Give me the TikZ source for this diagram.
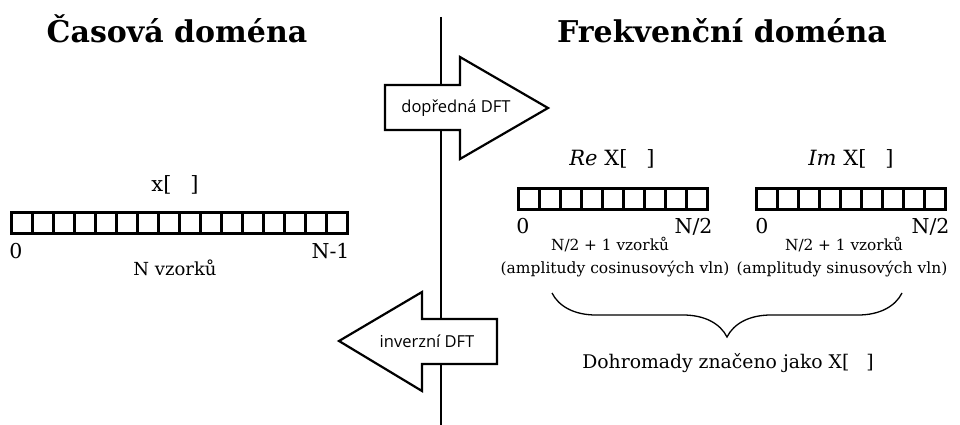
\documentclass[tikz,border=0pt]{standalone}
\usepackage{fontspec}
\setmainfont{DejaVu Serif}
\setsansfont{Open Sans}
\usetikzlibrary{decorations.pathreplacing}

\begin{document}
\begin{tikzpicture}[x=1pt, y=-1pt,
    cell/.style={draw, line width=2.8pt, minimum width=21pt, minimum height=21.5pt,
        inner sep=0pt, outer sep=0pt},
    heading/.style={anchor=base, font=\fontsize{30}{36}\selectfont\bfseries},
    arrname/.style={anchor=base, font=\fontsize{21}{25}\selectfont},
    idx/.style={anchor=base, font=\fontsize{20.5}{24}\selectfont},
    note/.style={anchor=base, font=\fontsize{15.5}{18}\selectfont},
    dft/.style={draw, line width=2.2pt, fill=white, line join=miter},
    dftname/.style={anchor=base, font=\sffamily\fontsize{16.5}{20}\selectfont}]
    \useasboundingbox (0, 0) rectangle (960, 425);

    \node[heading] (cas) at (177, 43) {Časová doména};
    \node[heading] (frek) at (722, 43) {Frekvenční doména};

    \coordinate (osa-t) at (441, 17);
    \coordinate (osa-b) at (441, 425);
    \draw[line width=2.2pt] (osa-t) -- (osa-b);

    % dopredna a inverzni DFT
    \draw[dft] (385, 85) -- (460, 85) -- (460, 57) -- (548, 108)
        -- (460, 159) -- (460, 130) -- (385, 130) -- cycle;
    \node[dftname] (fwd) at (456, 113) {dopředná DFT};
    \draw[dft] (497, 319) -- (422, 319) -- (422, 292) -- (339, 341)
        -- (422, 391) -- (422, 364) -- (497, 364) -- cycle;
    \node[dftname] (inv) at (427, 347) {inverzní DFT};

    % casova domena
    \node[arrname] (x) at (175, 191) {x[\hspace{0.9em}]};
    \foreach \i in {0,...,15}
        \node[cell] (x\i) at ({22 + 21*\i}, 223) {};
    \node[idx] (x-0) at (16, 258) {0};
    \node[idx, anchor=base east] (x-n) at (353, 258) {N-1};
    \node[note, font=\fontsize{18}{21}\selectfont] (x-pocet) at (175, 275) {N vzorků};

    % frekvencni domena
    \node[arrname] (re) at (612, 165) {\textit{Re} X[\hspace{0.9em}]};
    \foreach \i in {0,...,8}
        \node[cell] (re\i) at ({529 + 21*\i}, 199) {};
    \node[idx] (re-0) at (523, 233) {0};
    \node[idx, anchor=base east] (re-n) at (716, 233) {N/2};
    \node[note, font=\fontsize{15.3}{18}\selectfont] (re-pocet) at (610, 250) {N/2 + 1 vzorků};
    \node[note] (re-popis) at (615, 273) {(amplitudy cosinusových vln)};

    \node[arrname] (im) at (851, 165) {\textit{Im} X[\hspace{0.9em}]};
    \foreach \i in {0,...,8}
        \node[cell] (im\i) at ({767 + 21*\i}, 199) {};
    \node[idx] (im-0) at (762, 233) {0};
    \node[idx, anchor=base east] (im-n) at (953, 233) {N/2};
    \node[note, font=\fontsize{15.3}{18}\selectfont] (im-pocet) at (844, 250) {N/2 + 1 vzorků};
    \node[note] (im-popis) at (842, 273) {(amplitudy sinusových vln)};

    \coordinate (zav-l) at (552, 293);
    \coordinate (zav-r) at (902, 293);
    \draw[line width=1.3pt, decorate, decoration={brace, mirror, amplitude=44pt}]
        (zav-l) -- (zav-r);
    \node[note, font=\fontsize{18.8}{22}\selectfont] (spolu) at (728, 368)
        {Dohromady značeno jako X[\hspace{0.9em}]};
\end{tikzpicture}
\end{document}
